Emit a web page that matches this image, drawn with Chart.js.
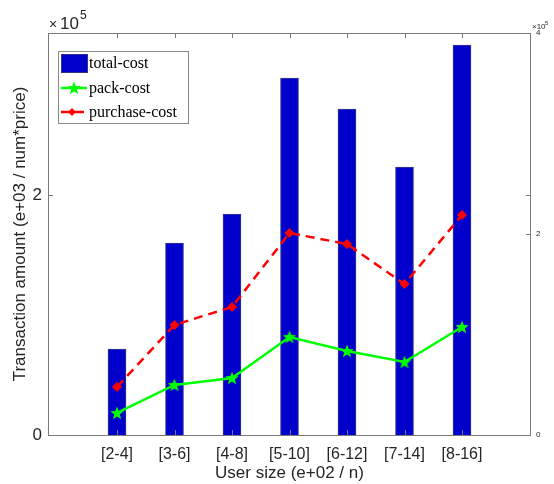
<!DOCTYPE html>
<html>
<head>
<meta charset="utf-8">
<script src="https://cdn.jsdelivr.net/npm/chart.js@4/dist/chart.umd.min.js"></script>
<style>
  html, body { margin: 0; padding: 0; background: #fff; }
</style>
</head>
<body>
<canvas id="chart" width="554" height="484"></canvas>
<script>
// data
const categories = ["[2-4]", "[3-6]", "[4-8]", "[5-10]", "[6-12]", "[7-14]", "[8-16]"];
const totalCost = [71700, 160000, 184200, 297500, 271700, 223300, 325000];
const packCost = [21900, 49800, 56700, 97500, 83600, 72600, 107500];
const purchaseCost = [47800, 109500, 127400, 201000, 190000, 150200, 218900];
const leftTicks = [0, 200000];
const rightTicks = [0, 200000, 400000];

const axisColor = "#262626";
const boxColor = "#7a7a7a";
const sans = "'Liberation Sans', Arial, sans-serif";
const serif = "'Liberation Serif', 'Times New Roman', serif";

// filled pentagram marker (MATLAB style)
function makeStar(size, color) {
    const c = document.createElement("canvas");
    c.width = size; c.height = size;
    const g = c.getContext("2d");
    const cx = size / 2, cy = size / 2 + 0.5, R = size / 2, r = R * 0.42;
    g.beginPath();
    for (let i = 0; i < 10; i++) {
        const rad = i % 2 === 0 ? R : r;
        const a = -Math.PI / 2 + i * Math.PI / 5;
        g.lineTo(cx + rad * Math.cos(a), cy + rad * Math.sin(a));
    }
    g.closePath();
    g.fillStyle = color;
    g.fill();
    return c;
}
const starMarker = makeStar(14, "#00ff00");

const toPoints = arr => arr.map((v, i) => ({ x: i, y: v }));

// inward ticks, box, exponent labels and legend
const matlabLook = {
    id: "matlabLook",
    afterDraw(chart) {
        const ctx = chart.ctx;
        const a = chart.chartArea;
        const sx = chart.scales.x, sy = chart.scales.y, sy2 = chart.scales.y2;
        ctx.save();

        // box
        ctx.strokeStyle = boxColor;
        ctx.lineWidth = 1;
        ctx.strokeRect(a.left + 0.5, a.top + 0.5, a.right - a.left - 1, a.bottom - a.top);

        // ticks
        ctx.beginPath();
        categories.forEach((c, i) => {
            const px = Math.round(sx.getPixelForValue(i)) + 0.5;
            ctx.moveTo(px, a.bottom); ctx.lineTo(px, a.bottom - 5);
            ctx.moveTo(px, a.top); ctx.lineTo(px, a.top + 5);
        });
        leftTicks.forEach(v => {
            const py = Math.round(sy.getPixelForValue(v)) + 0.5;
            ctx.moveTo(a.left, py); ctx.lineTo(a.left + 5, py);
            ctx.moveTo(a.right, py); ctx.lineTo(a.right - 5, py);
        });
        rightTicks.forEach(v => {
            const py = Math.round(sy2.getPixelForValue(v)) + 0.5;
            ctx.moveTo(a.right, py); ctx.lineTo(a.right - 5, py);
        });
        ctx.stroke();

        // exponent labels
        ctx.fillStyle = axisColor;
        ctx.textBaseline = "middle";
        ctx.textAlign = "left";
        ctx.font = "14px " + sans;
        ctx.fillText("\u00d7", 49, 25);
        ctx.font = "17px " + sans;
        ctx.fillText("10", 60, 24);
        ctx.font = "12px " + sans;
        ctx.fillText("5", 80, 16);
        ctx.font = "8px " + sans;
        ctx.fillText("\u00d710", 532, 27);
        ctx.font = "6px " + sans;
        ctx.fillText("5", 545, 23);

        // legend
        const lx = 58, ly = 51, lw = 130, lh = 72;
        ctx.fillStyle = "#fff";
        ctx.fillRect(lx, ly, lw, lh);
        ctx.strokeStyle = "#8a8a8a";
        ctx.strokeRect(lx + 0.5, ly + 0.5, lw, lh);
        ctx.font = "16px " + serif;
        // total-cost
        ctx.fillStyle = "#0000cc";
        ctx.fillRect(61, 54, 26, 18);
        ctx.strokeStyle = "#333388";
        ctx.strokeRect(61.5, 54.5, 26, 18);
        ctx.fillStyle = "#000";
        ctx.fillText("total-cost", 89, 64);
        // pack-cost
        ctx.strokeStyle = "#00ff00";
        ctx.lineWidth = 2.5;
        ctx.beginPath(); ctx.moveTo(61, 88); ctx.lineTo(87, 88); ctx.stroke();
        ctx.drawImage(starMarker, 74 - 7, 88 - 7);
        ctx.fillText("pack-cost", 89, 89);
        // purchase-cost
        ctx.strokeStyle = "#ff0000";
        ctx.setLineDash([9, 5]);
        ctx.beginPath(); ctx.moveTo(61, 112); ctx.lineTo(87, 112); ctx.stroke();
        ctx.setLineDash([]);
        ctx.fillStyle = "#ff0000";
        ctx.beginPath();
        ctx.moveTo(72, 108); ctx.lineTo(76, 112); ctx.lineTo(72, 116); ctx.lineTo(68, 112);
        ctx.closePath(); ctx.fill();
        ctx.fillStyle = "#000";
        ctx.fillText("purchase-cost", 89, 113);

        ctx.restore();
    }
};

new Chart(document.querySelector("#chart").getContext("2d"), {
    type: "bar",
    data: {
        datasets: [
            {
                type: "line",
                label: "purchase-cost",
                data: toPoints(purchaseCost),
                yAxisID: "y2",
                borderColor: "#ff0000",
                borderWidth: 2.5,
                borderDash: [9, 6],
                pointStyle: "rectRot",
                pointRadius: 4.5,
                pointBackgroundColor: "#ff0000",
                pointBorderColor: "#ff0000",
                pointBorderWidth: 1,
                tension: 0,
                order: 1
            },
            {
                type: "line",
                label: "pack-cost",
                data: toPoints(packCost),
                yAxisID: "y2",
                borderColor: "#00ff00",
                borderWidth: 2.5,
                pointStyle: starMarker,
                tension: 0,
                order: 2
            },
            {
                type: "bar",
                label: "total-cost",
                data: toPoints(totalCost),
                yAxisID: "y",
                backgroundColor: "#0000cc",
                borderColor: "#3a3a8c",
                borderWidth: 1,
                barThickness: 18,
                order: 3
            }
        ]
    },
    options: {
        responsive: false,
        animation: false,
        layout: { padding: { top: 33, left: 0, right: 0, bottom: 0 } },
        plugins: {
            legend: { display: false },
            tooltip: { enabled: false }
        },
        scales: {
            x: {
                type: "linear",
                offset: false,
                min: -1.2,
                max: 7.2,
                afterBuildTicks: s => { s.ticks = categories.map((c, i) => ({ value: i })); },
                afterFit: s => { s.height = 49; },
                grid: { display: false, drawTicks: false },
                border: { display: false },
                ticks: {
                    autoSkip: false,
                    maxRotation: 0,
                    padding: 10,
                    color: axisColor,
                    font: { family: sans, size: 16 },
                    callback: v => categories[v]
                },
                title: {
                    display: true,
                    text: "User size (e+02 / n)",
                    color: axisColor,
                    font: { family: sans, size: 17 },
                    padding: { top: 3, bottom: 0 }
                }
            },
            y: {
                position: "left",
                min: 0,
                max: 335000,
                afterBuildTicks: s => { s.ticks = leftTicks.map(v => ({ value: v })); },
                afterFit: s => { s.width = 48; },
                grid: { display: false, drawTicks: false },
                border: { display: false },
                ticks: {
                    padding: 6,
                    color: axisColor,
                    font: { family: sans, size: 17 },
                    callback: v => v / 100000
                },
                title: {
                    display: true,
                    text: "Transaction amount (e+03 / num*price)",
                    color: axisColor,
                    font: { family: sans, size: 17 },
                    padding: { top: 10, bottom: 0 }
                }
            },
            y2: {
                position: "right",
                min: 0,
                max: 400000,
                afterBuildTicks: s => { s.ticks = rightTicks.map(v => ({ value: v })); },
                afterFit: s => { s.width = 23; },
                grid: { display: false, drawTicks: false },
                border: { display: false },
                ticks: {
                    padding: 5,
                    color: axisColor,
                    font: { family: sans, size: 8 },
                    callback: v => v / 100000
                }
            }
        }
    },
    plugins: [matlabLook]
});
</script>
</body>
</html>
